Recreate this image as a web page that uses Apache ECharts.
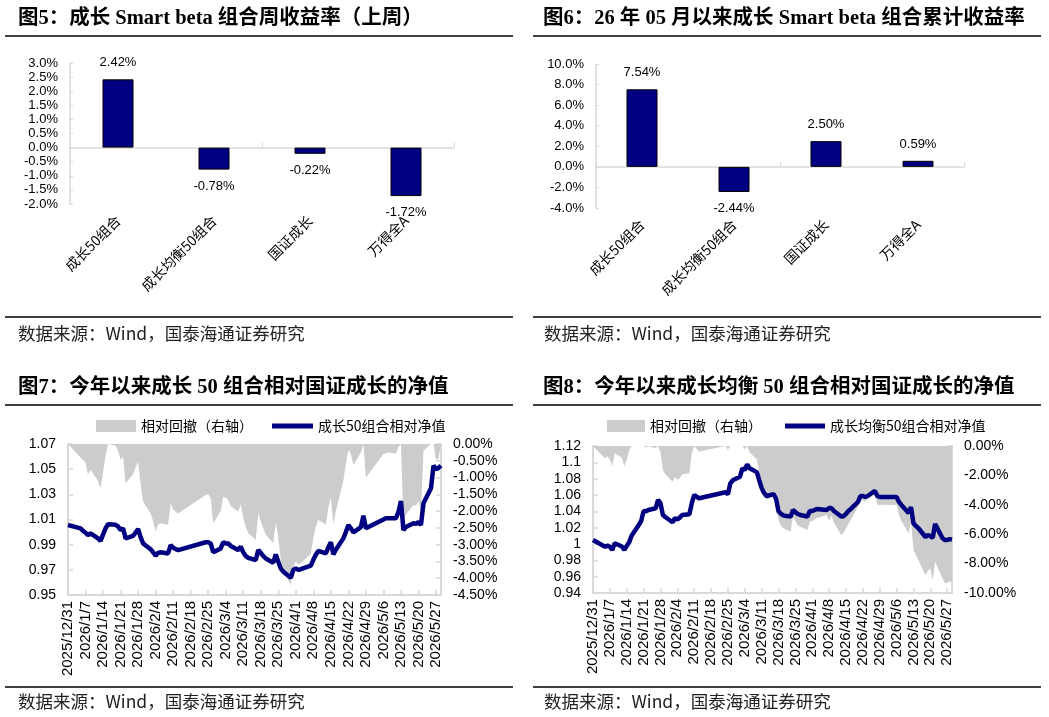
<!DOCTYPE html>
<html>
<head>
<meta charset="utf-8">
<script src="https://cdn.jsdelivr.net/npm/echarts@6/dist/echarts.min.js"></script>
<style>
html, body { margin: 0; padding: 0; background: #fff; }
#main { width: 1049px; height: 717px; }
</style>
</head>
<body>
<div id="main"></div>
<script>
// 图5 / 图6 柱状图数据
var barCats = ['成长50组合', '成长均衡50组合', '国证成长', '万得全A'];
var weekRet = [2.42, -0.78, -0.22, -1.72];      // 上周收益 %
var monthRet = [7.54, -2.44, 2.50, 0.59];      // 5月以来累计 %

// 图7 / 图8 交易日
var tradeDates = [
  '2025/12/31',
  '2026/1/5', '2026/1/6', '2026/1/7', '2026/1/8', '2026/1/9',
  '2026/1/12', '2026/1/13', '2026/1/14', '2026/1/15', '2026/1/16',
  '2026/1/19', '2026/1/20', '2026/1/21', '2026/1/22', '2026/1/23',
  '2026/1/26', '2026/1/27', '2026/1/28', '2026/1/29', '2026/1/30',
  '2026/2/2', '2026/2/3', '2026/2/4', '2026/2/5', '2026/2/6',
  '2026/2/9', '2026/2/10', '2026/2/11', '2026/2/12', '2026/2/13',
  '2026/2/24', '2026/2/25', '2026/2/26', '2026/2/27',
  '2026/3/2', '2026/3/3', '2026/3/4', '2026/3/5', '2026/3/6',
  '2026/3/9', '2026/3/10', '2026/3/11', '2026/3/12', '2026/3/13',
  '2026/3/16', '2026/3/17', '2026/3/18', '2026/3/19', '2026/3/20',
  '2026/3/23', '2026/3/24', '2026/3/25', '2026/3/26', '2026/3/27',
  '2026/3/30', '2026/3/31', '2026/4/1', '2026/4/2', '2026/4/3',
  '2026/4/7', '2026/4/8', '2026/4/9', '2026/4/10',
  '2026/4/13', '2026/4/14', '2026/4/15', '2026/4/16', '2026/4/17',
  '2026/4/20', '2026/4/21', '2026/4/22', '2026/4/23', '2026/4/24',
  '2026/4/27', '2026/4/28', '2026/4/29', '2026/4/30',
  '2026/5/6', '2026/5/7', '2026/5/8',
  '2026/5/11', '2026/5/12', '2026/5/13', '2026/5/14', '2026/5/15',
  '2026/5/18', '2026/5/19', '2026/5/20', '2026/5/21', '2026/5/22',
  '2026/5/25', '2026/5/26', '2026/5/27', '2026/5/28', '2026/5/29'
];

// 成长50组合相对净值
var nav50 = [
  1.0056,
  1.003, 1.001, 0.9995, 0.9975, 0.999,
  0.995, 0.993, 0.998, 1.003, 1.0062,
  1.0058, 1.0045, 1.0016, 1.003, 0.995,
  0.997, 0.9995, 1.0025, 0.996, 0.991,
  0.9863, 0.984, 0.9812, 0.9835, 0.984,
  0.983, 0.9897, 0.9875, 0.9865, 0.9857,
  0.9919, 0.992, 0.991, 0.984,
  0.987, 0.9919, 0.991, 0.991, 0.989,
  0.9857, 0.9884, 0.984, 0.981, 0.9795,
  0.9778, 0.9857, 0.9835, 0.981, 0.979,
  0.9757, 0.9823, 0.9764, 0.971, 0.9685,
  0.9637, 0.970, 0.9712, 0.970, 0.9705,
  0.9733, 0.978, 0.982, 0.985,
  0.983, 0.988, 0.9919, 0.9823, 0.986,
  0.995, 1.000, 1.0056, 1.003, 0.9998,
  1.004, 1.013, 1.003, 1.004,
  1.010, 1.011, 1.011,
  1.011, 1.016, 1.0247, 1.0016, 1.004,
  1.007, 1.0065, 1.008, 1.0056, 1.023,
  1.0348, 1.0528, 1.050, 1.051, 1.0528
];
// 成长50组合相对回撤 %
var dd50 = [
  0,
  -0.40, -0.48, -0.55, -0.92, -0.77,
  -1.10, -1.32, -0.85, -0.35, 0,
  -0.05, -0.20, -0.48, -0.38, -1.17,
  -0.90, -0.70, -0.53, -1.20, -1.72,
  -2.07, -2.30, -2.61, -2.40, -2.36,
  -2.41, -1.77, -1.95, -2.02, -2.07,
  -1.52, -1.50, -1.62, -2.36,
  -2.00, -1.57, -1.60, -1.67, -1.85,
  -2.02, -1.80, -2.20, -2.46, -2.65,
  -2.86, -2.07, -2.30, -2.50, -2.70,
  -2.96, -2.35, -2.80, -3.45, -3.80,
  -4.20, -3.66, -3.50, -3.60, -3.55,
  -3.28, -2.80, -2.45, -2.26,
  -2.41, -1.90, -1.57, -2.40, -2.00,
  -1.10, -0.60, -0.18, -0.30, -0.63,
  -0.25, 0, -1.00, -0.90,
  -0.30, -0.28, -0.25,
  -0.28, -0.10, 0, -2.32, -2.10,
  -1.82, -1.85, -1.70, -2.02, -0.20,
  0, 0, -0.48, -0.43, 0
];

// 成长均衡50组合相对净值
var navBal = [
  1.005,
  0.9967, 0.998, 0.9967, 0.9927, 1.0009,
  0.997, 0.9927, 0.9976, 1.002, 1.0102,
  1.0233, 1.0282, 1.0404, 1.040, 1.0417,
  1.0437, 1.054, 1.050, 1.0355, 1.033,
  1.0266, 1.0315, 1.030, 1.0323, 1.0355,
  1.0364, 1.050, 1.060, 1.058, 1.056,
  1.0633, 1.061, 1.0743, 1.078,
  1.0824, 1.0927, 1.0906, 1.0976, 1.0927,
  1.088, 1.078, 1.0686, 1.0625, 1.0588,
  1.061, 1.055, 1.040, 1.037, 1.035,
  1.0335, 1.0417, 1.039, 1.0368, 1.0355,
  1.0337, 1.0404, 1.0404, 1.0417, 1.0429,
  1.0417, 1.044, 1.044, 1.0404,
  1.0337, 1.034, 1.0368, 1.0404, 1.0429,
  1.0515, 1.0588, 1.0588, 1.0576, 1.0588,
  1.065, 1.0588, 1.0576, 1.0576,
  1.0576, 1.0515, 1.0478,
  1.038, 1.0453, 1.0254, 1.022, 1.0196,
  1.0086, 1.011, 1.0098, 1.0074, 1.0245,
  1.0074, 1.005, 1.0049, 1.006, 1.0055
];
// 成长均衡50组合相对回撤 %
var ddBal = [
  0,
  -0.84, -0.70, -0.93, -1.40, -0.50,
  -0.80, -1.40, -0.93, -0.30, 0,
  0, 0, 0, -0.10, 0,
  -0.15, 0, -0.40, -1.63, -1.90,
  -2.43, -2.10, -2.30, -2.20, -1.93,
  -1.86, -0.50, 0, -0.20, -0.38,
  0, -0.25, 0, 0,
  0, 0, -0.20, 0, -0.45,
  -0.90, -1.80, -2.65, -3.20, -3.67,
  -3.40, -3.90, -5.03, -5.40, -5.60,
  -5.83, -4.81, -5.10, -5.40, -5.50,
  -5.71, -5.15, -5.10, -5.00, -4.90,
  -4.69, -5.10, -4.74, -5.20,
  -6.05, -5.90, -5.60, -5.30, -5.03,
  -4.13, -3.67, -3.70, -3.79, -3.60,
  -3.22, -4.01, -4.00, -4.00,
  -4.01, -4.69, -5.10,
  -5.94, -5.15, -7.07, -7.40, -7.75,
  -8.77, -8.50, -8.32, -9.11, -7.87,
  -9.00, -9.34, -9.30, -9.20, -9.25
];

var BASE = Date.UTC(2025, 11, 31);
function dayIdx(s) {
  var p = s.split('/');
  return Math.round((Date.UTC(+p[0], +p[1] - 1, +p[2]) - BASE) / 86400000);
}
function dayLabel(v) {
  var d = new Date(BASE + v * 86400000);
  return d.getUTCFullYear() + '/' + (d.getUTCMonth() + 1) + '/' + d.getUTCDate();
}
function pairs(arr) {
  return tradeDates.map(function (d, i) { return [dayIdx(d), arr[i]]; });
}
function barData(arr) {
  return arr.map(function (v) {
    return { value: v, label: { position: v < 0 ? 'bottom' : 'top' } };
  });
}

var SANS = "'Liberation Sans', 'Noto Sans CJK SC', sans-serif";
var CJK = "'Noto Sans CJK SC', 'Liberation Sans', sans-serif";
var TITLE = "'Liberation Serif', 'Noto Sans CJK SC', serif";
var GRAY = '#d9d9d9';
var NAVY = '#000080';

var chart = echarts.init(document.getElementById('main'));

function titleItem(text, x, y) {
  return { text: text, left: x, top: y, padding: 0,
    textStyle: { fontFamily: TITLE, fontSize: 20.5, fontWeight: 'bold', color: '#000' } };
}
function srcItem(x, y) {
  return { text: '数据来源：Wind，国泰海通证券研究', left: x, top: y, padding: 0,
    textStyle: { fontFamily: CJK, fontSize: 17.5, fontWeight: 'normal', color: '#222' } };
}
function hline(x1, x2, y) {
  return { type: 'line', shape: { x1: x1, y1: y, x2: x2, y2: y },
    style: { stroke: '#000', lineWidth: 1.3 } };
}

function catLabelAxis(grid) {
  return { type: 'category', gridIndex: grid, data: barCats, position: 'bottom',
    axisLine: { show: false, onZero: false }, axisTick: { show: false },
    axisLabel: { rotate: 45, fontFamily: CJK, fontSize: 14, color: '#000', margin: 14 } };
}
function catZeroAxis(grid) {
  return { type: 'category', gridIndex: grid, data: barCats, position: 'bottom',
    axisLine: { show: true, onZero: true, lineStyle: { color: GRAY, width: 1.5 } },
    axisTick: { show: true, inside: true, length: 5, lineStyle: { color: GRAY } },
    axisLabel: { show: false } };
}
function pctAxis(grid, min, max, step) {
  return { type: 'value', gridIndex: grid, min: min, max: max, interval: step,
    splitLine: { show: false },
    axisLine: { show: true, lineStyle: { color: GRAY, width: 1.5 } },
    axisTick: { show: true, inside: true, length: 3, lineStyle: { color: GRAY } },
    axisLabel: { fontFamily: SANS, fontSize: 13, color: '#000', margin: 12,
      formatter: function (v) { return v.toFixed(1) + '%'; } } };
}
function dateAxis(grid) {
  return { type: 'value', gridIndex: grid, min: 0, max: 149, interval: 7,
    splitLine: { show: false },
    axisLine: { show: true, onZero: false, lineStyle: { color: GRAY, width: 2 } },
    axisTick: { show: true, inside: true, length: 5, lineStyle: { color: GRAY, width: 1.5 } },
    axisLabel: { rotate: 90, fontFamily: SANS, fontSize: 15, color: '#000', margin: 6,
      showMaxLabel: false, formatter: dayLabel } };
}
function navAxis(grid, min, max) {
  return { type: 'value', gridIndex: grid, position: 'left', min: min, max: max, interval: 0.02,
    splitLine: { show: false },
    axisLine: { show: true, lineStyle: { color: GRAY, width: 2 } },
    axisTick: { show: true, inside: true, length: 5, lineStyle: { color: GRAY, width: 1.5 } },
    axisLabel: { fontFamily: SANS, fontSize: 14, color: '#000', margin: 12,
      formatter: function (v) { return String(+v.toFixed(2)); } } };
}
function ddAxis(grid, min, step) {
  return { type: 'value', gridIndex: grid, position: 'right', min: min, max: 0, interval: step,
    splitLine: { show: false },
    axisLine: { show: true, lineStyle: { color: GRAY, width: 2 } },
    axisTick: { show: true, inside: true, length: 5, lineStyle: { color: GRAY, width: 1.5 } },
    axisLabel: { fontFamily: SANS, fontSize: 14, color: '#000', margin: 12,
      formatter: function (v) { return v.toFixed(2) + '%'; } } };
}
function barSeries(arr, xi, yi) {
  return { type: 'bar', xAxisIndex: xi, yAxisIndex: yi, data: barData(arr), barWidth: 31,
    itemStyle: { color: NAVY, borderColor: '#000', borderWidth: 1 },
    label: { show: true, distance: 10, fontFamily: SANS, fontSize: 13, color: '#000',
      formatter: function (p) { return p.value.toFixed(2) + '%'; } } };
}
function ddSeries(arr, xi, yi) {
  return { name: '相对回撤（右轴）', type: 'line', xAxisIndex: xi, yAxisIndex: yi,
    data: pairs(arr), symbol: 'none', color: '#cccccc',
    lineStyle: { width: 0 }, areaStyle: { color: '#cccccc', opacity: 1 } };
}
function navSeries(name, arr, xi, yi) {
  return { name: name, type: 'line', xAxisIndex: xi, yAxisIndex: yi,
    data: pairs(arr), symbol: 'none', color: NAVY,
    lineStyle: { width: 4.5, color: NAVY } };
}
function legendItem(name, x, w, h) {
  return { left: x, top: 419, padding: 0, itemWidth: w, itemHeight: h, icon: 'rect', data: [name],
    selectedMode: false, textStyle: { fontFamily: CJK, fontSize: 14, color: '#000' } };
}

var option = {
  backgroundColor: '#fff',
  animation: false,
  title: [
    titleItem('图5：成长 Smart beta 组合周收益率（上周）', 18, 8),
    titleItem('图6：26 年 05 月以来成长 Smart beta 组合累计收益率', 543, 8),
    titleItem('图7：今年以来成长 50 组合相对国证成长的净值', 18, 377),
    titleItem('图8：今年以来成长均衡 50 组合相对国证成长的净值', 543, 377),
    srcItem(18, 325), srcItem(544, 325),
    srcItem(18, 693), srcItem(544, 693)
  ],
  graphic: [
    hline(5, 513, 36), hline(533, 1041, 36),
    hline(5, 513, 317), hline(533, 1041, 317),
    hline(5, 513, 405), hline(533, 1041, 405),
    hline(5, 513, 687), hline(533, 1041, 687)
  ],
  legend: [
    legendItem('相对回撤（右轴）', 96, 40, 12),
    legendItem('成长50组合相对净值', 272, 41, 5),
    legendItem('相对回撤（右轴）', 607, 38, 12),
    legendItem('成长均衡50组合相对净值', 785, 40, 5)
  ],
  grid: [
    { left: 70, top: 63, width: 384, height: 141 },
    { left: 596, top: 64, width: 368, height: 144 },
    { left: 68, top: 444, width: 373, height: 151 },
    { left: 593, top: 446, width: 359, height: 147 }
  ],
  xAxis: [
    catLabelAxis(0), catZeroAxis(0),
    catLabelAxis(1), catZeroAxis(1),
    dateAxis(2), dateAxis(3)
  ],
  yAxis: [
    pctAxis(0, -2, 3, 0.5),
    pctAxis(1, -4, 10, 2),
    navAxis(2, 0.95, 1.07), ddAxis(2, -4.5, 0.5),
    navAxis(3, 0.94, 1.12), ddAxis(3, -10, 2)
  ],
  series: [
    barSeries(weekRet, 0, 0),
    barSeries(monthRet, 2, 1),
    ddSeries(dd50, 4, 3),
    navSeries('成长50组合相对净值', nav50, 4, 2),
    ddSeries(ddBal, 5, 5),
    navSeries('成长均衡50组合相对净值', navBal, 5, 4)
  ]
};
chart.setOption(option);
</script>
</body>
</html>
